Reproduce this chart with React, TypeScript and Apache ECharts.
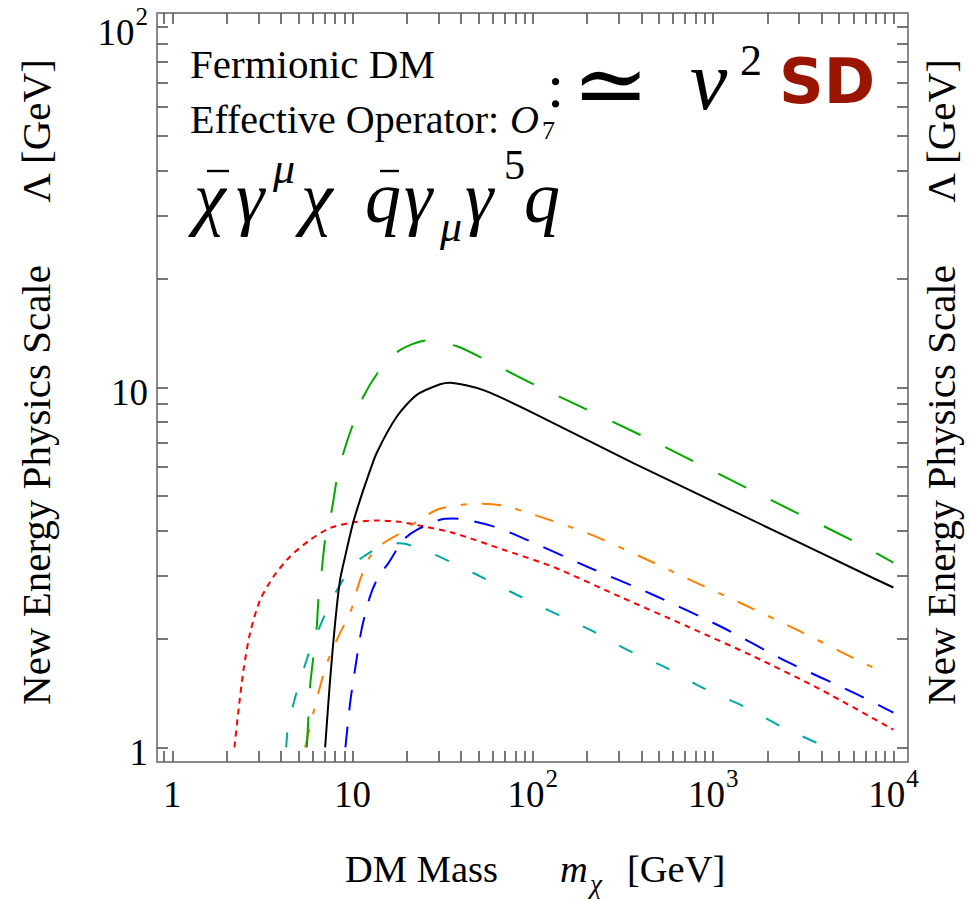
import React, { useEffect, useRef } from 'react';
import * as echarts from 'echarts';

// ---------------- data ----------------
const blackX = [7.04, 7.5, 8.0, 8.52, 9.09, 10.07, 11.0, 12.0, 13.6, 17.6, 22.7, 30.6, 34.8, 42.6, 53.2, 65.8, 100.7, 361, 1298, 7762, 10000];
const blackY = [1.0, 1.54, 2.22, 2.92, 3.39, 4.21, 4.87, 5.54, 6.57, 8.3, 9.53, 10.2, 10.3, 10.13, 9.82, 9.39, 8.48, 6.16, 4.53, 2.95, 2.78];

const greenX = [5.57, 5.69, 5.81, 6.06, 6.33, 6.46, 6.75, 7.04, 7.67, 8.17, 8.89, 10.1, 11.5, 14.2, 18.4, 25.8, 37.9, 53.2, 105, 429, 1676, 6545, 10000];
const greenY = [1.0, 1.22, 1.48, 1.79, 2.17, 2.57, 3.12, 3.77, 4.57, 5.54, 6.57, 7.96, 9.44, 11.2, 12.7, 13.5, 13.0, 12.0, 10.1, 7.23, 5.14, 3.66, 3.26];

const redX = [2.21, 2.32, 2.48, 2.7, 3.07, 3.64, 4.5, 5.81, 7.5, 10.1, 13.6, 18.4, 24.7, 36.3, 68.7, 130, 305, 716, 1676, 3926, 10000];
const redY = [1.0, 1.25, 1.64, 2.08, 2.57, 2.98, 3.39, 3.77, 4.07, 4.22, 4.27, 4.23, 4.11, 3.94, 3.54, 3.17, 2.62, 2.17, 1.79, 1.45, 1.12];

const blueX = [9.12, 9.69, 10.3, 11.2, 12.5, 13.9, 15.8, 19.1, 22.7, 31.9, 36.3, 60.4, 92.6, 199, 467, 1094, 2570, 6010, 10000];
const blueY = [1.0, 1.33, 1.64, 2.12, 2.63, 2.98, 3.25, 3.77, 4.02, 4.31, 4.32, 4.11, 3.77, 3.18, 2.65, 2.17, 1.73, 1.42, 1.25];

const orangeX = [5.45, 6.06, 6.61, 7.19, 8.52, 9.69, 11.0, 12.5, 14.8, 18.4, 22.7, 29.3, 34.8, 48.9, 68.7, 101, 199, 394, 778, 1540, 3041, 6010, 8460];
const orangeY = [1.0, 1.25, 1.48, 1.71, 2.08, 2.36, 2.92, 3.39, 3.69, 3.94, 4.24, 4.57, 4.67, 4.75, 4.69, 4.43, 3.94, 3.39, 2.89, 2.47, 2.1, 1.77, 1.63];

const cyanX = [4.28, 4.4, 4.6, 5.11, 5.33, 6.06, 6.46, 7.5, 8.0, 9.9, 11.5, 16.2, 18.4, 25.8, 31.3, 46.8, 74.8, 125, 208, 332, 554, 885, 1475, 2410, 4285];
const cyanY = [1.0, 1.17, 1.27, 1.54, 1.64, 1.99, 2.12, 2.52, 2.68, 3.18, 3.39, 3.69, 3.69, 3.5, 3.36, 3.05, 2.71, 2.39, 2.12, 1.87, 1.66, 1.46, 1.3, 1.14, 1.0];

const xMajor = [1, 10, 100, 1000, 10000];
const xMajorLabels = ['1', '10', '10^2', '10^3', '10^4'];
const yMajor = [1, 10, 100];
const yMajorLabels = ['1', '10', '10^2'];

const X_MIN = 0.822;
const X_MAX = 12050;
const Y_MIN = 0.911;
const Y_MAX = 109.5;

const SERIF = "'Liberation Serif', 'Times New Roman', 'DejaVu Serif', serif";

function logTicks(lo: number, hi: number): number[] {
  const out: number[] = [];
  for (let e = -1; e <= 4; e++) {
    for (let k = 1; k <= 9; k++) {
      const v = parseFloat((k * Math.pow(10, e)).toPrecision(6));
      if (v >= lo && v <= hi) out.push(v);
    }
  }
  return out;
}

function zip(xs: number[], ys: number[]): number[][] {
  return xs.map((x, i) => [x, ys[i]]);
}

function makeFormatter(majors: number[], labels: string[]) {
  return (v: number) => {
    const i = majors.findIndex((m) => Math.abs(Math.log10(m) - Math.log10(v)) < 1e-6);
    if (i < 0) return '';
    const parts = labels[i].split('^');
    return parts.length === 2 ? `{b|${parts[0]}}{s|${parts[1]}}` : `{b|${labels[i]}}`;
  };
}

const labelRich = {
  b: { fontSize: 37, fontFamily: SERIF, color: '#000', padding: [10, 0, 0, 0] },
  s: { fontSize: 25, fontFamily: SERIF, color: '#000', verticalAlign: 'top', padding: [0, 0, 0, 1] },
};

export default function App() {
  const ref = useRef<HTMLDivElement>(null);

  useEffect(() => {
    if (!ref.current) return;
    const chart = echarts.init(ref.current, undefined, { renderer: 'svg' });

    const xTicks = logTicks(X_MIN, X_MAX);
    const yTicks = logTicks(Y_MIN, Y_MAX);
    const frame = { color: '#8a8a8a', width: 2 };
    const tick = { color: '#555', width: 1.6 };

    const mkX = (pos: 'bottom' | 'top', labels: boolean) => ({
      type: 'log',
      logBase: 10,
      min: X_MIN,
      max: X_MAX,
      position: pos,
      axisLine: { show: true, onZero: false, lineStyle: frame },
      axisTick: { show: true, inside: true, length: 11, customValues: xTicks, lineStyle: tick },
      minorTick: { show: false },
      splitLine: { show: false },
      axisLabel: labels
        ? { show: true, customValues: xMajor, formatter: makeFormatter(xMajor, xMajorLabels), margin: 4, rich: labelRich }
        : { show: false },
    });
    const mkY = (pos: 'left' | 'right', labels: boolean) => ({
      type: 'log',
      logBase: 10,
      min: Y_MIN,
      max: Y_MAX,
      position: pos,
      axisLine: { show: true, onZero: false, lineStyle: frame },
      axisTick: { show: true, inside: true, length: 11, customValues: yTicks, lineStyle: tick },
      minorTick: { show: false },
      splitLine: { show: false },
      axisLabel: labels
        ? { show: true, customValues: yMajor, formatter: makeFormatter(yMajor, yMajorLabels), margin: 9, rich: labelRich }
        : { show: false },
    });

    const line = (name: string, xs: number[], ys: number[], color: string, type: any, width = 2) => ({
      name,
      type: 'line',
      xAxisIndex: 0,
      yAxisIndex: 0,
      data: zip(xs, ys),
      showSymbol: false,
      symbol: 'none',
      smooth: 0.25,
      clip: true,
      lineStyle: { color, width, type, cap: 'butt' },
    });

    const txt = (text: string, x: number, y: number, font: any, extra: any = {}) => ({
      type: 'text',
      x,
      y,
      silent: true,
      ...extra,
      style: {
        text,
        fill: '#000',
        fontFamily: SERIF,
        align: 'left',
        verticalAlign: 'middle',
        textAlign: 'left',
        textVerticalAlign: 'middle',
        ...font,
      },
    });
    const bar = (x1: number, x2: number, y: number) => ({
      type: 'line',
      silent: true,
      shape: { x1, y1: y, x2, y2: y },
      style: { stroke: '#000', lineWidth: 2.4 },
    });

    const F = 72; // formula font size
    const fy = 198; // formula line centre
    const it = { fontSize: F, fontStyle: 'italic' };
    const supS = { fontSize: 44, fontStyle: 'italic' };

    const option: any = {
      animation: false,
      backgroundColor: '#fff',
      grid: { left: 157, top: 13, width: 751, height: 749, containLabel: false },
      xAxis: [mkX('bottom', true), mkX('top', false)],
      yAxis: [mkY('left', true), mkY('right', false)],
      series: [
        line('red', redX, redY, '#ff0000', [6, 5]),
        line('cyan', cyanX, cyanY, '#00a8a8', [15, 26]),
        line('orange', orangeX, orangeY, '#ff8000', [19, 15, 6, 15]),
        line('blue', blueX, blueY, '#0000ff', [21, 16]),
        line('green', greenX, greenY, '#00a800', [31, 28]),
        line('black', blackX, blackY, '#000000', 'solid'),
      ],
      graphic: [
        txt('Fermionic DM', 190, 64, { fontSize: 41 }),
        txt('Effective Operator:', 190, 119, { fontSize: 40 }),
        txt('O', 510, 119, { fontSize: 40, fontStyle: 'italic' }),
        txt('7', 542, 130, { fontSize: 26 }),
        // formula  χ̄ γ^μ χ  q̄ γ_μ γ^5 q
        txt('χ', 194, fy, it),
        bar(207, 229, 171),
        txt('γ', 236, fy, it),
        txt('μ', 273, 168, supS),
        txt('χ', 301, fy, it),
        txt('q', 365, fy, it),
        bar(380, 399, 171),
        txt('γ', 404, fy, it),
        txt('μ', 440, 226, supS),
        txt('γ', 465, fy, it),
        txt('5', 504, 165, { fontSize: 42 }),
        txt('q', 524, fy, it),
        // ": ≃ v^2 SD"
        txt(':', 547, 86, { fontSize: 62 }),
        txt('≃', 572, 84, { fontSize: 92, fontFamily: "'DejaVu Serif', serif" }),
        txt('v', 690, 80, { fontSize: 84, fontStyle: 'italic' }),
        txt('2', 740, 60, { fontSize: 44 }),
        txt('SD', 779, 81, { fontSize: 62, fontWeight: 'bold', fontFamily: "'DejaVu Sans', sans-serif", fill: '#9a1500' }),
        // axis titles
        txt('DM Mass', 345, 869, { fontSize: 38.5 }),
        txt('m', 560, 869, { fontSize: 38.5, fontStyle: 'italic' }),
        txt('χ', 590, 884, { fontSize: 27, fontStyle: 'italic' }),
        txt('[GeV]', 627, 869, { fontSize: 38.5 }),
        txt('New Energy Physics Scale', 36, 485, { fontSize: 41, align: 'center', textAlign: 'center' }, { rotation: Math.PI / 2 }),
        txt('Λ [GeV]', 36, 131, { fontSize: 41, align: 'center', textAlign: 'center' }, { rotation: Math.PI / 2 }),
        txt('New Energy Physics Scale', 941, 485, { fontSize: 41, align: 'center', textAlign: 'center' }, { rotation: Math.PI / 2 }),
        txt('Λ [GeV]', 941, 131, { fontSize: 41, align: 'center', textAlign: 'center' }, { rotation: Math.PI / 2 }),
      ],
    };

    chart.setOption(option);
    return () => chart.dispose();
  }, []);

  return (
    <div
      ref={ref}
      style={{ position: 'absolute', left: 0, top: 0, width: 970, height: 901, background: '#fff' }}
    />
  );
}
